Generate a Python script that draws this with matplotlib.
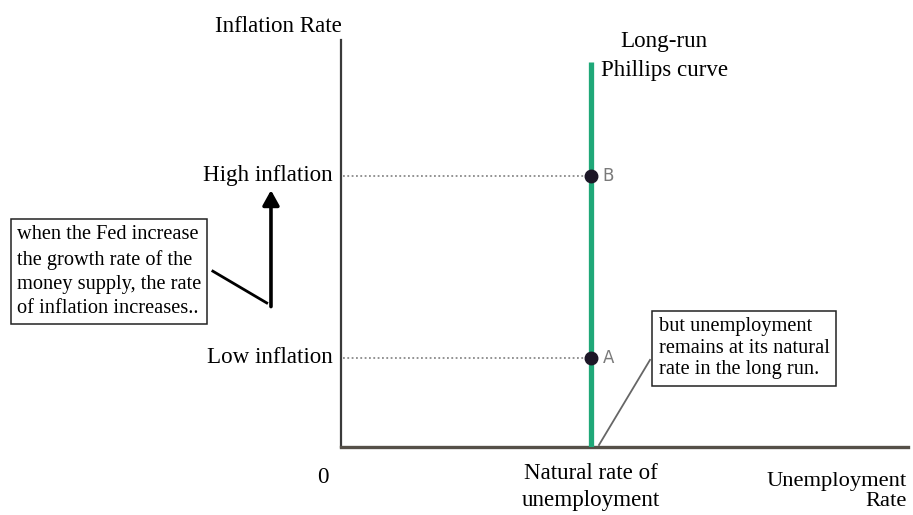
import matplotlib.pyplot as plt

# conceptual chart values (arbitrary units, axes run 0..10)
natural_rate = 4.41
inflation_levels = [2.19, 6.66]
inflation_labels = ['Low inflation', 'High inflation']
point_labels = ['A', 'B']
lrpc_top = 9.46

plt.rcParams['font.family'] = ['Liberation Serif', 'DejaVu Serif']
FS = 16.6

fig = plt.figure(figsize=(9.13, 5.15), dpi=100)
ax = fig.add_axes([341 / 913, 68 / 515, 567 / 913, 407 / 515])
ax.set_xlim(0, 10)
ax.set_ylim(0, 10)
ax.set_xticks([])
ax.set_yticks([])
for s in ['top', 'right']:
    ax.spines[s].set_visible(False)
ax.spines['left'].set_color('#3a3a3a')
ax.spines['left'].set_linewidth(1.6)
ax.spines['bottom'].set_color('#555048')
ax.spines['bottom'].set_linewidth(2.4)

# dotted guide lines
for y in inflation_levels:
    ax.plot([0.04, natural_rate], [y, y], color='#8a8a8a', lw=1.3,
            linestyle=(0, (1, 1.4)), zorder=2)

# long-run Phillips curve
ax.plot([natural_rate, natural_rate], [0, lrpc_top], color='#1fa878', lw=3.8,
        solid_capstyle='butt', zorder=3)

# points A and B
ax.plot([natural_rate] * 2, inflation_levels, 'o', color='#1c1626', ms=9, zorder=4)
for y, lab in zip(inflation_levels, point_labels):
    ax.text(natural_rate + 0.2, y, lab, family='DejaVu Sans', fontsize=12,
            color='#7a7a7a', ha='left', va='center')

# inflation labels on the left
for y, lab in zip(inflation_levels, inflation_labels):
    ax.text(-0.14, y, lab, fontsize=FS, ha='right', va='center', clip_on=False)

# axis titles
ax.text(-1.11, 10.32, 'Inflation Rate', fontsize=FS, ha='center', va='center', clip_on=False)
ax.text(5.70, 9.61, 'Long-run\nPhillips curve', fontsize=FS, ha='center', va='center',
        linespacing=1.5, clip_on=False)
ax.text(-0.32, -0.74, '0', fontsize=FS, ha='center', va='center', clip_on=False)
ax.text(natural_rate, -0.98, 'Natural rate of\nunemployment', fontsize=FS, ha='center',
        va='center', linespacing=1.4, clip_on=False)
ax.text(9.97, -1.09, 'Unemployment\nRate', fontsize=16.2, ha='right', va='center',
        multialignment='right', linespacing=1.1, clip_on=False)

# arrow from low to high inflation
ax.annotate('', xy=(-1.235, 6.31), xytext=(-1.235, 3.45),
            arrowprops=dict(arrowstyle='-|>,head_width=0.5,head_length=0.9',
                            color='black', lw=2.6, shrinkA=0, shrinkB=0),
            annotation_clip=False)

# left explanation box
ax.text(-5.72, 4.31, 'when the Fed increase\nthe growth rate of the\nmoney supply, the rate\nof inflation increases..',
        fontsize=14.7, ha='left', va='center', linespacing=1.38, clip_on=False,
        bbox=dict(boxstyle='square,pad=0.3', fc='white', ec='#222222', lw=1.1))
ax.plot([-2.26, -1.31], [4.32, 3.54], color='black', lw=2, clip_on=False)

# right explanation box
ax.text(5.60, 2.43, 'but unemployment\nremains at its natural\nrate in the long run.',
        fontsize=14.7, ha='left', va='center', linespacing=1.2, clip_on=False,
        bbox=dict(boxstyle='square,pad=0.3', fc='white', ec='#222222', lw=1.1))
ax.plot([4.55, 5.45], [0.05, 2.14], color='#666666', lw=1.3, clip_on=False)

fig.savefig('out.png', dpi=100)
